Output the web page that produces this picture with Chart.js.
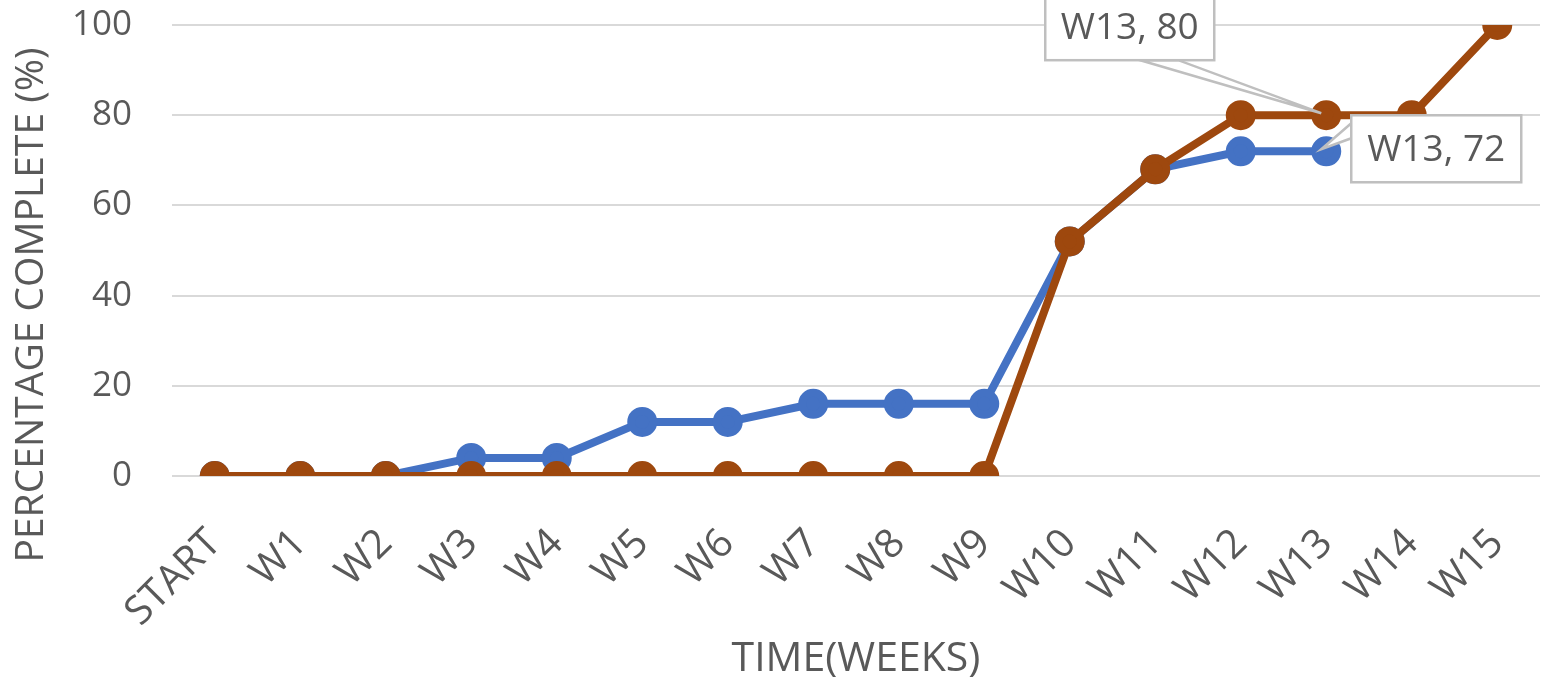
<!DOCTYPE html>
<html>
<head>
<meta charset="utf-8">
<script src="https://cdn.jsdelivr.net/npm/chart.js@4"></script>
<style>
  html, body { margin: 0; padding: 0; background: #fff; }
  #wrap { width: 1544px; height: 682px; }
</style>
</head>
<body>
<div id="wrap"><canvas id="progressChart" width="1544" height="682"></canvas></div>
<script>
const weeks = ['START', 'W1', 'W2', 'W3', 'W4', 'W5', 'W6', 'W7', 'W8', 'W9', 'W10', 'W11', 'W12', 'W13', 'W14', 'W15'];
const actualDone = [0, 0, 0, 4, 4, 12, 12, 16, 16, 16, 52, 68, 72, 72];
const plannedDone = [0, 0, 0, 0, 0, 0, 0, 0, 0, 0, 52, 68, 80, 80, 80, 100];
const yTicks = [0, 20, 40, 60, 80, 100];
const yTitle = 'PERCENTAGE COMPLETE (%)';
const xTitle = 'TIME(WEEKS)';

const fontFam = '"Open Sans", "DejaVu Sans", sans-serif';
const textGray = '#595959';

// callout boxes for the W13 points, offsets relative to the data point
const callouts = [
  { ds: 1, idx: 13, left: -281, right: -112, top: -122, bottom: -55, wedge: [[-186, -55], [-148, -55]] },
  { ds: 0, idx: 13, left: 25, right: 195, top: -36, bottom: 31, wedge: [[25, -28], [25, -13]] }
];

const calloutPlugin = {
  id: 'callouts',
  afterDatasetsDraw(chart) {
    const ctx = chart.ctx;
    callouts.forEach(c => {
      const pt = chart.getDatasetMeta(c.ds).data[c.idx];
      const val = chart.data.datasets[c.ds].data[c.idx];
      const txt = chart.data.labels[c.idx] + ', ' + val;
      const x = pt.x, y = pt.y;
      ctx.save();
      ctx.strokeStyle = '#bfbfbf';
      ctx.lineWidth = 2.5;
      ctx.fillStyle = '#ffffff';
      // leader wedge
      ctx.beginPath();
      ctx.moveTo(x + c.wedge[0][0], y + c.wedge[0][1]);
      ctx.lineTo(x - 5, y - 2);
      ctx.lineTo(x + c.wedge[1][0], y + c.wedge[1][1]);
      ctx.closePath();
      ctx.fill();
      ctx.stroke();
      // box
      ctx.fillRect(x + c.left, y + c.top, c.right - c.left, c.bottom - c.top);
      ctx.strokeRect(x + c.left, y + c.top, c.right - c.left, c.bottom - c.top);
      ctx.fillStyle = textGray;
      ctx.font = '37px ' + fontFam;
      ctx.textAlign = 'center';
      ctx.textBaseline = 'middle';
      ctx.fillText(txt, x + (c.left + c.right) / 2, y + (c.top + c.bottom) / 2 + 2);
      ctx.restore();
    });
  }
};

// y title sits lower than the plot centre in the original, so it is drawn here
const yTitlePlugin = {
  id: 'yTitle',
  afterDraw(chart) {
    const ctx = chart.ctx;
    ctx.save();
    ctx.translate(32, 305);
    ctx.rotate(-Math.PI / 2);
    ctx.fillStyle = textGray;
    ctx.font = '39px ' + fontFam;
    ctx.textAlign = 'center';
    ctx.textBaseline = 'middle';
    ctx.fillText(yTitle, 0, 0);
    ctx.restore();
  }
};

const ctx = document.getElementById('progressChart').getContext('2d');
new Chart(ctx, {
  type: 'line',
  data: {
    labels: weeks,
    datasets: [
      {
        label: 'Actual',
        data: actualDone,
        borderColor: '#4472C4',
        backgroundColor: '#4472C4',
        borderWidth: 8,
        pointRadius: 11,
        pointHoverRadius: 11,
        tension: 0,
        order: 2
      },
      {
        label: 'Planned',
        data: plannedDone,
        borderColor: '#9E480E',
        backgroundColor: '#9E480E',
        borderWidth: 8,
        pointRadius: 11,
        pointHoverRadius: 11,
        tension: 0,
        order: 1
      }
    ]
  },
  options: {
    responsive: false,
    animation: false,
    layout: { autoPadding: false, padding: { top: 0, right: 4, left: 0, bottom: 0 } },
    plugins: {
      legend: { display: false },
      tooltip: { enabled: false }
    },
    scales: {
      x: {
        offset: true,
        grid: { display: false },
        border: { display: false },
        afterFit(axis) {
          axis.paddingLeft = 0;
          axis.paddingRight = 0;
          axis.height = 206;
        },
        ticks: {
          color: textGray,
          font: { size: 40, family: fontFam },
          minRotation: 45,
          maxRotation: 45,
          padding: 36
        },
        title: {
          display: true,
          text: xTitle,
          color: textGray,
          font: { size: 41, family: '"Liberation Sans Narrow", "Open Sans", sans-serif' },
          padding: { top: 0, bottom: -2 }
        }
      },
      y: {
        min: 0,
        max: 100,
        afterBuildTicks(axis) { axis.ticks = yTicks.map(v => ({ value: v })); },
        afterFit(axis) {
          axis.width = 172;
          axis.paddingTop = 25;
        },
        grid: { color: '#d9d9d9', lineWidth: 2, drawTicks: false },
        border: { display: false },
        ticks: {
          color: textGray,
          font: { size: 35, family: fontFam },
          padding: 40
        }
      }
    }
  },
  plugins: [calloutPlugin, yTitlePlugin]
});
</script>
</body>
</html>
